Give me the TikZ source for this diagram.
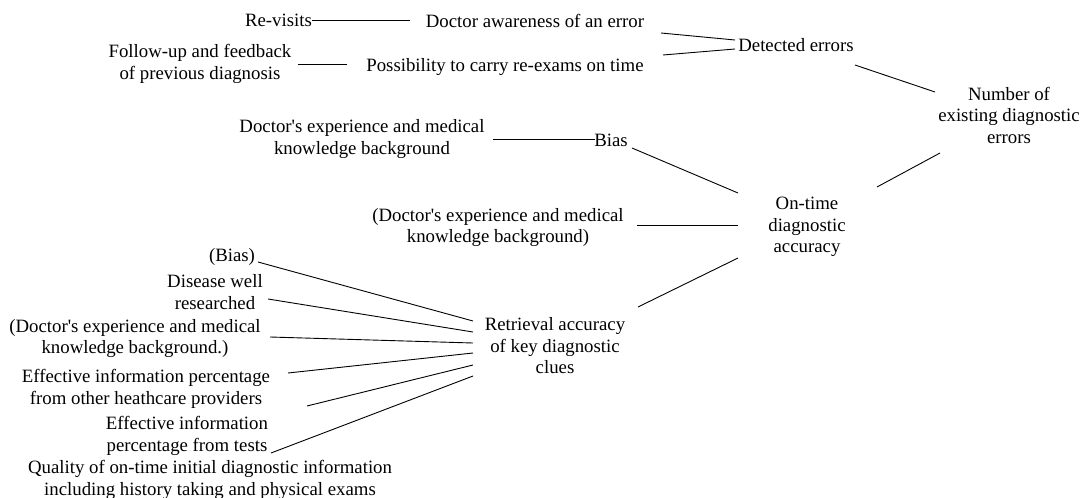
\documentclass[tikz,border=0pt]{standalone}
\usepackage{fontspec}
\setmainfont{Liberation Serif}
\newcommand{\apos}{\textquotesingle}
\begin{document}
\begin{tikzpicture}[x=1pt,y=-1pt,
  lbl/.style={font=\fontsize{18.8}{21.5}\selectfont, align=center, inner sep=0pt},
  link/.style={draw=black, line width=0.9pt}]
\useasboundingbox (0,0) rectangle (1090,498);

% top branch: detected errors
\node[lbl] (rv)  at (278.5,20) {Re-visits};
\node[lbl] (da)  at (535,21)   {Doctor awareness of an error};
\node[lbl] (fu)  at (200,64)   {Follow-up and feedback\\of previous diagnosis};
\node[lbl] (po)  at (505,67)   {Possibility to carry re-exams on time};
\node[lbl] (de)  at (796,45)   {Detected errors};
\node[lbl] (num) at (1009,115) {Number of\\existing diagnostic\\errors};

% middle branch: on-time accuracy
\node[lbl] (dk1)  at (362,139)  {Doctor\apos s experience and medical\\knowledge background};
\node[lbl] (bias) at (611,140)  {Bias};
\node[lbl] (dk2)  at (498,227.5){(Doctor\apos s experience and medical\\knowledge background)};
\node[lbl] (ot)   at (807,227)  {On-time\\diagnostic\\accuracy};

% lower branch: retrieval accuracy
\node[lbl] (ret) at (555,346)   {Retrieval accuracy\\of key diagnostic\\clues};
\node[lbl] (b2)  at (232,256.5) {(Bias)};
\node[lbl] (dw)  at (215,292)   {Disease well\\researched};
\node[lbl] (dk3) at (135,338.5) {(Doctor\apos s experience and medical\\knowledge background.)};
\node[lbl] (e1)  at (146,389)   {Effective information percentage\\from other heathcare providers};
\node[lbl] (e2)  at (187,436)   {Effective information\\percentage from tests};
\node[lbl] (q)   at (210,480)   {Quality of on-time initial diagnostic information\\including history taking and physical exams};

% connectors
\draw[link] ([shift={(33.5,0)}]rv.center) -- ([shift={(-125,-1)}]da.center);
\draw[link] ([shift={(98,0)}]fu.center)   -- ([shift={(-158,-3)}]po.center);
\draw[link] ([shift={(126,12)}]da.center) -- ([shift={(-61,-5)}]de.center);
\draw[link] ([shift={(158,-12)}]po.center) -- ([shift={(-61,4)}]de.center);
\draw[link] ([shift={(59,20)}]de.center)  -- ([shift={(-74,-23)}]num.center);
\draw[link] ([shift={(70,-40)}]ot.center) -- ([shift={(-69,38)}]num.center);

\draw[link] ([shift={(131,0)}]dk1.center) -- ([shift={(-16,-1)}]bias.center);
\draw[link] ([shift={(21,8)}]bias.center) -- ([shift={(-69,-34)}]ot.center);
\draw[link] ([shift={(139,-2.5)}]dk2.center) -- ([shift={(-69,-2)}]ot.center);
\draw[link] ([shift={(83,-39)}]ret.center) -- ([shift={(-69,31)}]ot.center);

\draw[link] ([shift={(26,5.5)}]b2.center)   -- ([shift={(-82,-25)}]ret.center);
\draw[link] ([shift={(53,7)}]dw.center)     -- ([shift={(-82,-14)}]ret.center);
\draw[link] ([shift={(135,-1.5)}]dk3.center)-- ([shift={(-82,-3)}]ret.center);
\draw[link] ([shift={(142,-16)}]e1.center)  -- ([shift={(-82,7)}]ret.center);
\draw[link] ([shift={(120,-30)}]e2.center)  -- ([shift={(-82,19)}]ret.center);
\draw[link] ([shift={(61,-27)}]q.center)    -- ([shift={(-82,30)}]ret.center);
\end{tikzpicture}
\end{document}
